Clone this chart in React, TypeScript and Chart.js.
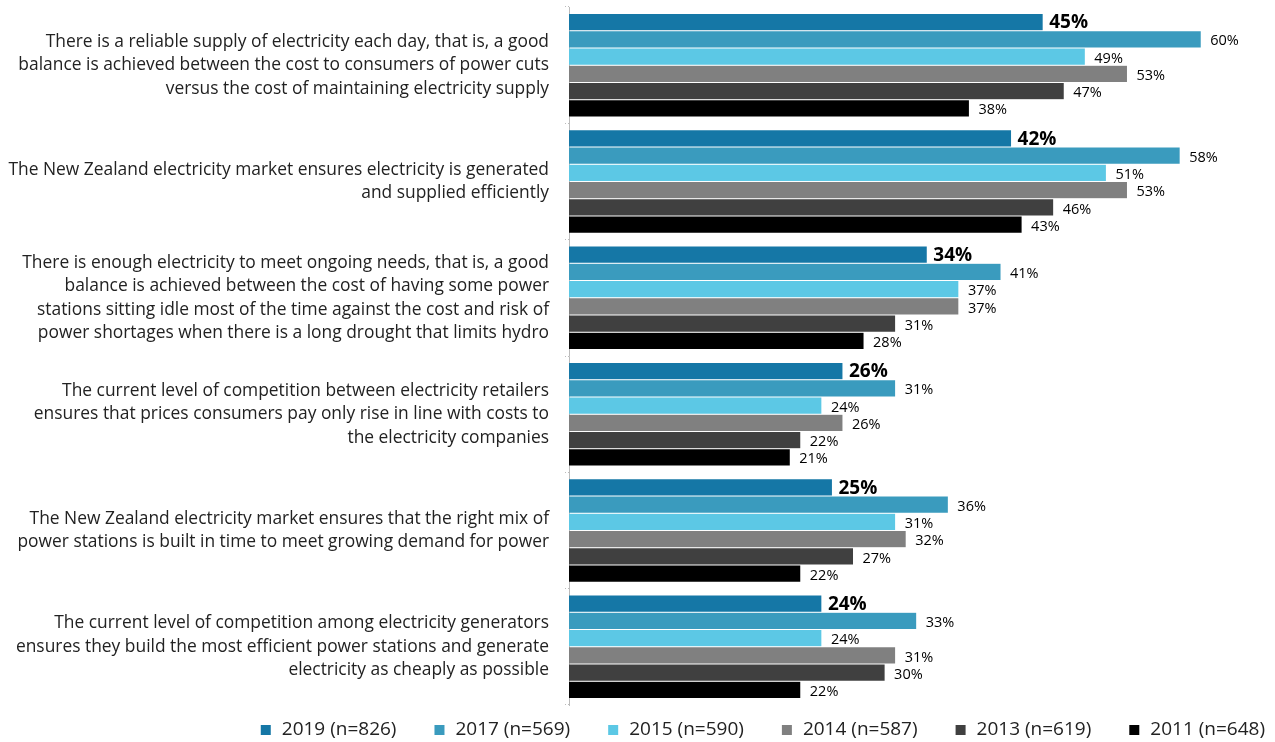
import React, { useEffect, useRef } from "react";
import { Chart, registerables } from "chart.js";

Chart.register(...registerables);

const categories: string[][] = [
  ["There is a reliable supply of electricity each day, that is, a good", "balance is achieved between the cost to consumers of power cuts", "versus the cost of maintaining electricity supply"],
  ["The New Zealand electricity market ensures electricity is generated", "and supplied efficiently"],
  ["There is enough electricity to meet ongoing needs, that is, a good", "balance is achieved between the cost of having some power", "stations sitting idle most of the time against the cost and risk of", "power shortages when there is a long drought that limits hydro"],
  ["The current level of competition between electricity retailers", "ensures that prices consumers pay only rise in line with costs to", "the electricity companies"],
  ["The New Zealand electricity market ensures that the right mix of", "power stations is built in time to meet growing demand for power"],
  ["The current level of competition among electricity generators", "ensures they build the most efficient power stations and generate", "electricity as cheaply as possible"],
];

const seriesLabels = ["2019 (n=826)", "2017 (n=569)", "2015 (n=590)", "2014 (n=587)", "2013 (n=619)", "2011 (n=648)"];
const values2019 = [45, 42, 34, 26, 25, 24];
const values2017 = [60, 58, 41, 31, 36, 33];
const values2015 = [49, 51, 37, 24, 31, 24];
const values2014 = [53, 53, 37, 26, 32, 31];
const values2013 = [47, 46, 31, 22, 27, 30];
const values2011 = [38, 43, 28, 21, 22, 22];
const seriesColors = ["#1577A6", "#3A9BBE", "#5CC8E5", "#808080", "#404040", "#000000"];

const FONT = "'Open Sans', Lato, sans-serif";

const labelPlugin = {
  id: "valueLabels",
  afterDatasetsDraw(chart: any) {
    const ctx = chart.ctx;
    ctx.save();
    chart.data.datasets.forEach((ds: any, di: number) => {
      const meta = chart.getDatasetMeta(di);
      meta.data.forEach((bar: any, i: number) => {
        const v = ds.data[i];
        ctx.fillStyle = "#000";
        ctx.textBaseline = "middle";
        ctx.textAlign = "left";
        if (di === 0) {
          ctx.font = `bold 19px ${FONT}`;
          ctx.fillText(`${v}%`, bar.x + 6, bar.y + 1);
        } else {
          ctx.font = `14.5px ${FONT}`;
          ctx.fillText(`${v}%`, bar.x + 9, bar.y + 2);
        }
      });
    });
    ctx.restore();
  },
};

const legendPlugin = {
  id: "customLegend",
  afterDraw(chart: any) {
    const ctx = chart.ctx;
    ctx.save();
    ctx.font = `19px ${FONT}`;
    ctx.textBaseline = "middle";
    ctx.textAlign = "left";
    const box = 10;
    const gapBox = 11;
    const gap = 38;
    const items = chart.data.datasets.map((ds: any) => ({
      label: ds.label,
      color: ds.backgroundColor,
      w: ctx.measureText(ds.label).width,
    }));
    const total = items.reduce((s: number, it: any) => s + box + gapBox + it.w, 0) + gap * (items.length - 1);
    let x = chart.width - 10 - total;
    const y = 730;
    items.forEach((it: any) => {
      ctx.fillStyle = it.color;
      ctx.fillRect(x, y - box / 2, box, box);
      ctx.fillStyle = "#222";
      ctx.fillText(it.label, x + box + gapBox, y);
      x += box + gapBox + it.w + gap;
    });
    ctx.restore();
  },
};

export default function App() {
  const ref = useRef<HTMLCanvasElement>(null);
  useEffect(() => {
    document.body.style.margin = "0";
    const all = [values2019, values2017, values2015, values2014, values2013, values2011];
    const chart = new Chart(ref.current!, {
      type: "bar",
      data: {
        labels: categories,
        datasets: all.map((d, i) => ({
          label: seriesLabels[i],
          data: d,
          backgroundColor: seriesColors[i],
          borderColor: "rgba(255,255,255,0.35)",
          borderWidth: 0.5,
          barPercentage: 1,
          categoryPercentage: 0.89,
        })),
      },
      options: {
        indexAxis: "y",
        animation: false,
        responsive: false,
        maintainAspectRatio: false,
        layout: { padding: { top: 7, right: 0, bottom: 37, left: 0 } },
        scales: {
          x: {
            display: false,
            min: 0,
            max: 67,
            afterFit(scale: any) {
              scale.paddingLeft = 0;
              scale.paddingRight = 0;
            },
          },
          y: {
            afterFit(scale: any) {
              scale.width = 569;
              scale.paddingTop = 0;
              scale.paddingBottom = 0;
            },
            border: { display: true, color: "#bbbbbb", dash: [1, 2] },
            grid: { offset: true, drawOnChartArea: false, tickLength: 4, color: "#bbbbbb", tickBorderDash: [1, 2] } as any,
            ticks: { color: "#222", font: { family: FONT, size: 17.4, lineHeight: 1.35 }, padding: 16, autoSkip: false },
          },
        },
        plugins: {
          legend: { display: false },
          tooltip: { enabled: false },
        },
      },
      plugins: [labelPlugin, legendPlugin],
    });
    return () => chart.destroy();
  }, []);
  return (
    <div style={{ width: 1275, height: 742 }}>
      <canvas ref={ref} width={1275} height={742} />
    </div>
  );
}
